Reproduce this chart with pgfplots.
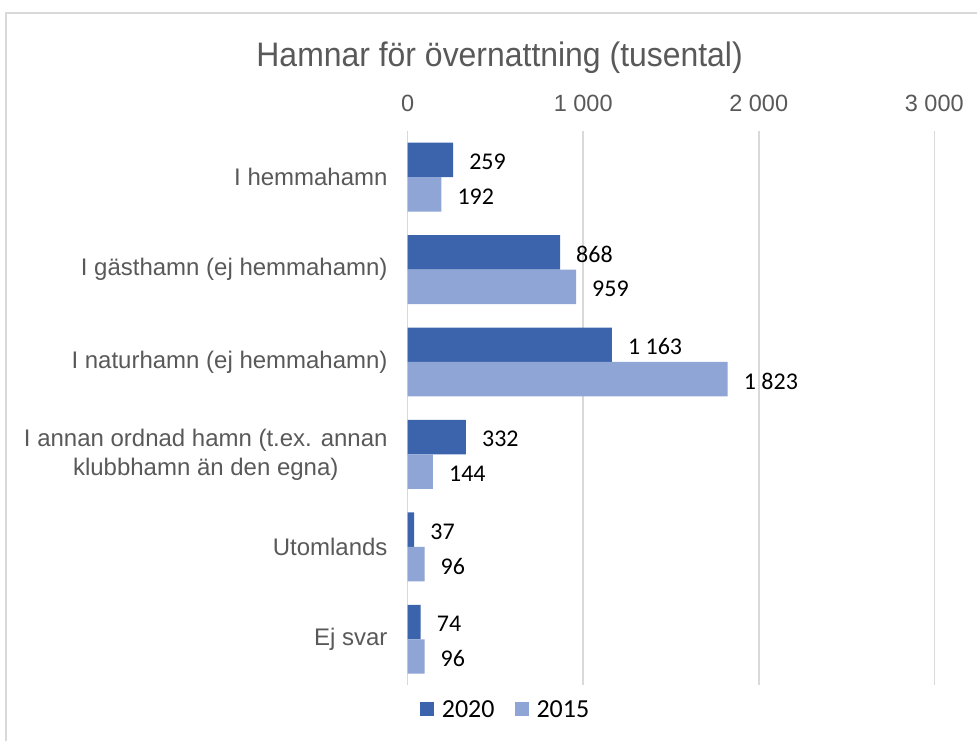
\documentclass[border=0pt]{standalone}
\usepackage{pgfplots}
\pgfplotsset{compat=1.18}
\usepackage{fontspec}
\setmainfont{Liberation Sans}
\newfontfamily\calib{Carlito}
\newfontfamily\titlefont[FakeStretch=0.94]{Liberation Sans}
\definecolor{dark}{HTML}{3C64AD}
\definecolor{light}{HTML}{8FA5D6}
\definecolor{gridc}{HTML}{D9D9D9}
\definecolor{txt}{HTML}{595959}
\begin{document}
\begin{tikzpicture}[x=1pt,y=1pt]
\path[fill=white] (0,0) rectangle (978,742);
\draw[gridc, line width=1.5pt] (6,0) -- (6,729) -- (978,729);
\node[anchor=base, text=txt, font=\titlefont\fontsize{34}{40}\selectfont, inner sep=0pt] at (500,675) {Hamnar för övernattning (tusental)};
\begin{axis}[
  at={(408pt,56pt)}, anchor=south west,
  scale only axis, width=527pt, height=555pt,
  xmin=0, xmax=3000, ymin=-0.5, ymax=5.5, y dir=reverse,
  xbar, bar width=34.5pt, bar shift=0pt,
  axis line style={draw=none},
  major tick length=0pt,
  clip=false,
  xtick={0,1000,2000,3000}, xticklabels={0,1 000,2 000,3 000},
  xticklabel pos=upper,
  xticklabel style={anchor=south, inner sep=0pt, yshift=19pt, text=txt, font=\fontsize{23.5}{28}\selectfont},
  ytick={0,1,2,3,4,5},
  yticklabels={I hemmahamn, I gästhamn (ej hemmahamn), I naturhamn (ej hemmahamn), {I annan ordnad hamn (t.ex. annan\\klubbhamn än den egna)}, Utomlands, Ej svar},
  yticklabel style={anchor=east, inner sep=0pt, xshift=-20pt, align=center, text=txt, font=\fontsize{24}{29}\selectfont},
  xmajorgrids, grid style={gridc, line width=1.5pt},
  nodes near coords, point meta=explicit symbolic,
  every node near coord/.append style={anchor=west, inner sep=0pt, xshift=16pt, yshift=-2pt, font=\calib\fontsize{24}{28}\selectfont, text=black},
  legend columns=2,
  legend style={at={(0.0228,-0.043)}, anchor=west, draw=none, fill=none, inner sep=0pt, font=\calib\fontsize{26}{30}\selectfont,
    /tikz/every odd column/.append style={column sep=6pt},
    /tikz/every even column/.append style={column sep=18pt}},
]
\addplot[fill=dark, draw=none, legend image code/.code={\fill[fill=dark] (0pt,-7pt) rectangle (14pt,7pt);}] coordinates {
 (259,-0.1865) [259]
 (868,0.8135) [868]
 (1163,1.8135) [1 163]
 (332,2.8135) [332]
 (37,3.8135) [37]
 (74,4.8135) [74]
};
\addlegendentry{2020}
\addplot[fill=light, draw=none, legend image code/.code={\fill[fill=light] (0pt,-7pt) rectangle (14pt,7pt);}] coordinates {
 (192,0.1865) [192]
 (959,1.1865) [959]
 (1823,2.1865) [1 823]
 (144,3.1865) [144]
 (96,4.1865) [96]
 (96,5.1865) [96]
};
\addlegendentry{2015}
\end{axis}
\end{tikzpicture}
\end{document}
